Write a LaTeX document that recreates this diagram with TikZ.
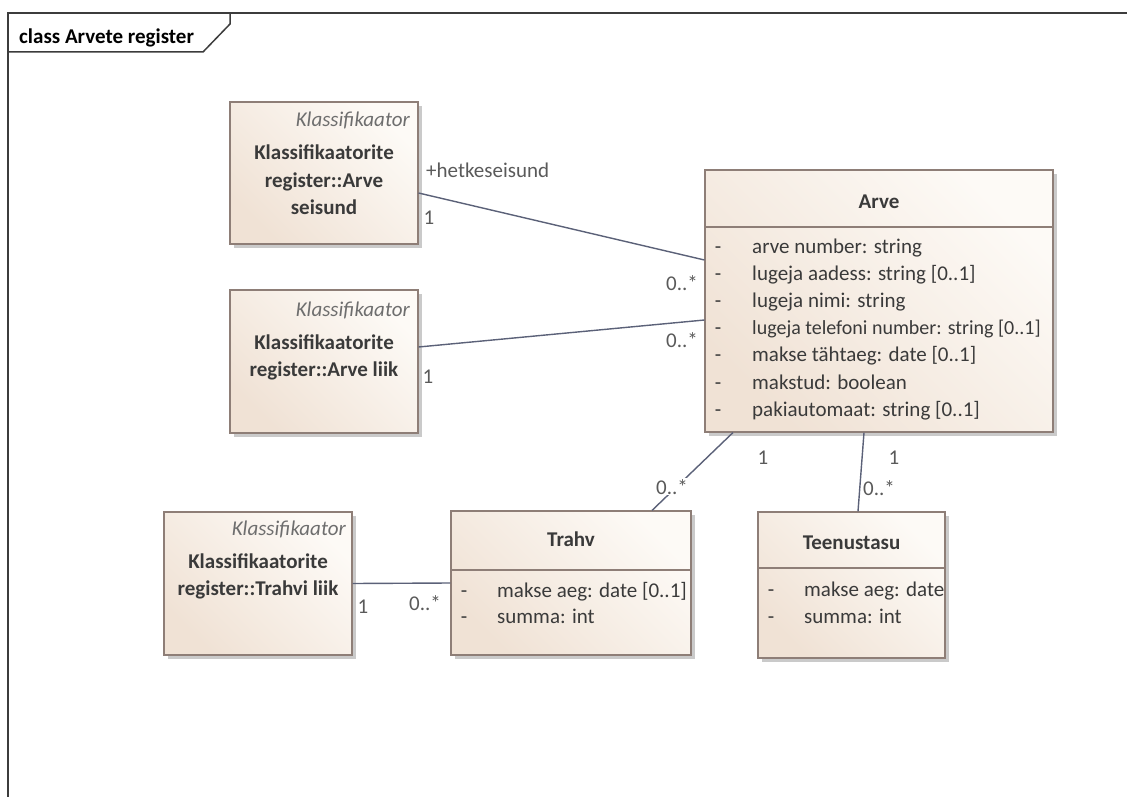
\documentclass[tikz,border=0pt]{standalone}
\usepackage{fontspec}
\setmainfont{Carlito}
\usetikzlibrary{shadows}

\definecolor{frameline}{HTML}{3C3C3C}
\definecolor{boxline}{HTML}{8E7E77}
\definecolor{boxlight}{HTML}{FDFAF6}
\definecolor{boxdark}{HTML}{F0E2D5}
\definecolor{shadowgray}{HTML}{CACACA}
\definecolor{assocline}{HTML}{5B6178}
\definecolor{nametext}{HTML}{3A3A3A}
\definecolor{stereotext}{HTML}{6E6E6E}
\definecolor{labeltext}{HTML}{5A5A5A}

\newcommand{\diagfont}{\fontsize{21}{25}\selectfont}

\tikzset{
  classbox/.style={draw=boxline, line width=1.1pt,
    top color=boxlight, bottom color=boxdark, shading angle=-45,
    drop shadow={shadow xshift=4pt, shadow yshift=-4pt, fill=shadowgray, opacity=1},
    inner sep=0pt},
  sepline/.style={draw=boxline, line width=1.1pt},
  assoc/.style={draw=assocline, line width=1.4pt},
  stereo/.style={font=\diagfont\itshape, text=stereotext, inner sep=0pt, anchor=base east},
  cname/.style={font=\diagfont\bfseries, text=nametext, inner sep=0pt, anchor=base},
  attr/.style={font=\diagfont, text=nametext, inner sep=0pt, anchor=base west},
  vis/.style={font=\diagfont, text=nametext, inner sep=0pt, anchor=base},
  mult/.style={font=\diagfont, text=labeltext, inner sep=1pt, anchor=base},
}

\begin{document}
\begin{tikzpicture}[x=1pt, y=-1pt]
\useasboundingbox (0,0) rectangle (1127,797);
\fill[white] (0,0) rectangle (1127,797);

% diagram frame with its name tab
\draw[draw=frameline, line width=1.5pt] (8,797) -- (8,13) -- (1127,13);
\draw[draw=frameline, line width=1.5pt] (8,52) -- (203,52) -- (230,24) -- (230,13);
\node[font=\diagfont\bfseries, text=black, inner sep=0pt, anchor=base west] (title) at (19,44) {class Arvete register};

% classifier classes
\node[classbox, minimum width=188pt, minimum height=142pt] (seis) at (324,173) {};
\node[stereo] (seis-st) at (410,127) {Klassifikaator};
\node[cname] (seis-n1) at (324,160) {Klassifikaatorite};
\node[cname] (seis-n2) at (324,187) {register::Arve};
\node[cname] (seis-n3) at (324,214) {seisund};

\node[classbox, minimum width=188pt, minimum height=143pt] (liik) at (324,361.5) {};
\node[stereo] (liik-st) at (410,316) {Klassifikaator};
\node[cname] (liik-n1) at (324,349) {Klassifikaatorite};
\node[cname] (liik-n2) at (324,376) {register::Arve liik};

\node[classbox, minimum width=188pt, minimum height=143pt] (trliik) at (258,583.5) {};
\node[stereo] (trliik-st) at (346,535) {Klassifikaator};
\node[cname] (trliik-n1) at (258,568) {Klassifikaatorite};
\node[cname] (trliik-n2) at (258,595) {register::Trahvi liik};

% Arve
\node[classbox, minimum width=348pt, minimum height=262pt] (arve) at (879,301) {};
\draw[sepline] (705,227) -- (1053,227);
\node[cname] (arve-n) at (879,208) {Arve};
\foreach \t [count=\i] in {{arve number: string},{lugeja aadess: string [0..1]},{lugeja nimi: string},{\fontsize{20}{25}\selectfont lugeja telefoni number: string [0..1]},{makse tähtaeg: date [0..1]},{makstud: boolean},{pakiautomaat: string [0..1]}}{
  \node[vis] (arve-v\i) at (718,{253+27.2*(\i-1)}) {-};
  \node[attr] (arve-a\i) at (752,{253+27.2*(\i-1)}) {\t};
}

% Trahv
\node[classbox, minimum width=240pt, minimum height=144pt] (trahv) at (571,583) {};
\draw[sepline] (451,570) -- (691,570);
\node[cname] (trahv-n) at (571,546) {Trahv};
\node[vis] (trahv-v1) at (464,597) {-};
\node[attr] (trahv-a1) at (497,597) {makse aeg: date [0..1]};
\node[vis] (trahv-v2) at (464,623) {-};
\node[attr] (trahv-a2) at (497,623) {summa: int};

% Teenustasu
\node[classbox, minimum width=187pt, minimum height=146pt] (teenus) at (851.5,585) {};
\draw[sepline] (758,568) -- (945,568);
\node[cname] (teenus-n) at (851.5,549) {Teenustasu};
\node[vis] (teenus-v1) at (771,596) {-};
\node[attr] (teenus-a1) at (804,596) {makse aeg: date};
\node[vis] (teenus-v2) at (771,623) {-};
\node[attr] (teenus-a2) at (804,623) {summa: int};

% associations
\draw[assoc] ([yshift=-20pt]seis.east) -- ([yshift=41pt]arve.west);
\draw[assoc] ([yshift=14.5pt]liik.east) -- ([yshift=-19pt]arve.west);
\draw[assoc] ([xshift=-146pt]arve.south) -- ([xshift=81pt]trahv.north);
\draw[assoc] ([xshift=-15pt]arve.south) -- ([xshift=6.5pt]teenus.north);
\draw[assoc] (trliik.east) -- (trahv.west);

% role names and multiplicities
\node[mult, anchor=base west] (m-role) at (425,177) {+hetkeseisund};
\node[mult] (m1) at (429,224) {1};
\node[mult] (m2) at (682,290) {0..*};
\node[mult] (m3) at (682,347) {0..*};
\node[mult] (m4) at (428,383) {1};
\node[mult, fill=white] (m5) at (672,494) {0..*};
\node[mult] (m6) at (763,464) {1};
\node[mult] (m7) at (894,464) {1};
\node[mult] (m8) at (879,495) {0..*};
\node[mult] (m9) at (363,613) {1};
\node[mult] (m10) at (425,610) {0..*};
\end{tikzpicture}
\end{document}
